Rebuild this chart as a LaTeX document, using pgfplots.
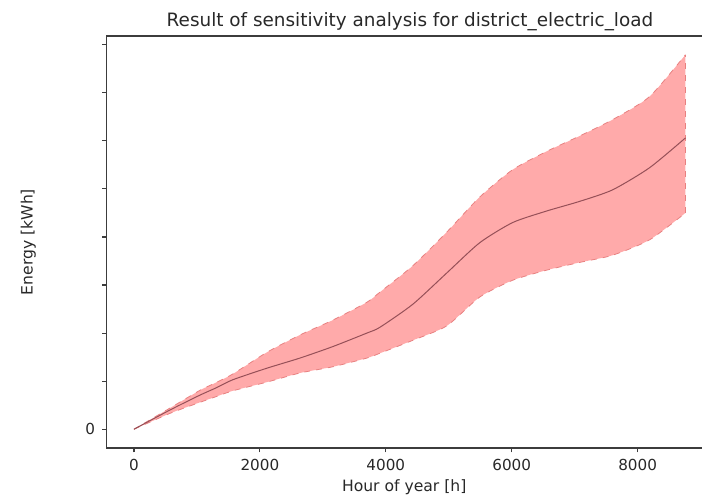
\documentclass[border=0pt]{standalone}
\usepackage{pgfplots}
\pgfplotsset{compat=1.18}
\usepgfplotslibrary{fillbetween}
\usepackage{fontspec}
\setmainfont{DejaVu Sans}
\definecolor{bandfill}{RGB}{255,170,170}
\definecolor{bandedge}{RGB}{232,128,128}
\definecolor{meanline}{RGB}{150,80,88}
\definecolor{axgray}{RGB}{60,60,60}
\definecolor{txt}{RGB}{40,40,40}
\pgfplotstableread{
h      up    mean  lo
0      0.00  0.00  0.00
571    0.44  0.40  0.33
1048   0.81  0.71  0.56
1286   0.96  0.85  0.67
1571   1.15  1.03  0.80
2111   1.60  1.27  0.98
2635   1.96  1.48  1.17
3159   2.27  1.72  1.30
3698   2.64  2.00  1.48
3905   2.85  2.12  1.58
4429   3.40  2.60  1.85
4968   4.10  3.25  2.15
5492   4.83  3.88  2.75
6016   5.40  4.30  3.10
6556   5.78  4.54  3.31
7079   6.10  4.74  3.47
7603   6.44  4.98  3.62
8190   6.92  5.44  3.94
8760   7.79  6.06  4.50
}\datatable
\begin{document}
\begin{tikzpicture}[x=1pt,y=1pt]
\begin{axis}[
  at={(53.2pt,25pt)}, anchor=south west, scale only axis,
  width=297.8pt, height=206pt,
  xmin=-438, xmax=9023, ymin=-0.39, ymax=8.18,
  axis x line=box, axis y line=left,
  xtick={0,2000,4000,6000,8000},
  ytick={0,1,2,3,4,5,6,7,8},
  yticklabels={0,{},{},{},{},{},{},{},{}},
  /pgf/number format/1000 sep={},
  /pgf/number format/assume math mode=true,
  tick align=outside, xtick pos=bottom, ytick pos=left,
  major tick length=2.2pt,
  every tick/.style={axgray, line width=0.6pt},
  axis line style={-, axgray, line width=0.7pt},
  ticklabel style={font=\fontsize{7.6}{9}\selectfont, text=txt},
  label style={font=\fontsize{7.8}{9}\selectfont, text=txt},
  xlabel={Hour of year [h]},
  ylabel={Energy [kWh]},
  xlabel style={at={(axis description cs:0.5,-0.0947)}, anchor=center},
  ylabel style={at={(axis description cs:-0.131,0.5)}, anchor=center},
  title={Result of sensitivity analysis for district\_electric\_load},
  title style={at={(axis description cs:0.5,1)}, anchor=base, yshift=-1pt, xshift=2.9pt, font=\fontsize{9.2}{11}\selectfont, text=txt},
]
\addplot[name path=U, draw=none, smooth, tension=0.4] table[x=h, y=up] {\datatable};
\addplot[name path=L, draw=none, smooth, tension=0.4] table[x=h, y=lo] {\datatable};
\addplot[bandfill, draw=none] fill between[of=U and L];
\addplot[bandedge, dashed, line width=0.4pt, smooth, tension=0.4] table[x=h, y=up] {\datatable};
\addplot[bandedge, dashed, line width=0.4pt, smooth, tension=0.4] table[x=h, y=lo] {\datatable};
\addplot[bandedge, dashed, line width=0.4pt] coordinates {(8760,4.50) (8760,7.79)};
\addplot[meanline, line width=0.5pt, smooth, tension=0.4] table[x=h, y=mean] {\datatable};
\end{axis}
\path (0,0) rectangle (351.5,249);
\end{tikzpicture}
\end{document}
